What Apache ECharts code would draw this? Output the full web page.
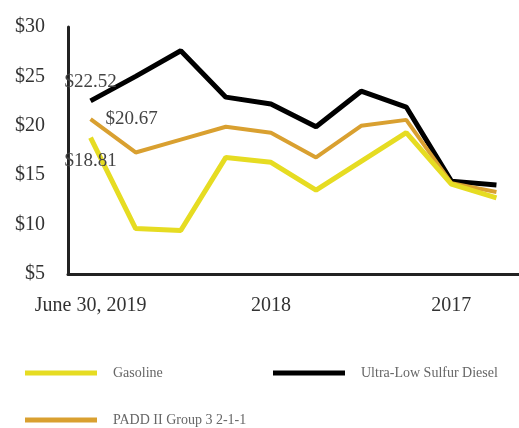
<!DOCTYPE html>
<html>
<head>
<meta charset="utf-8">
<script src="https://cdn.jsdelivr.net/npm/echarts@6/dist/echarts.min.js"></script>
<style>
  html, body { margin: 0; padding: 0; background: #fff; }
  #chart { width: 519px; height: 428px; }
</style>
</head>
<body>
<div id="chart"></div>
<script>
// quarters, newest first
const categories = ['Jun 2019', 'Mar 2019', 'Dec 2018', 'Sep 2018', 'Jun 2018',
  'Mar 2018', 'Dec 2017', 'Sep 2017', 'Jun 2017', 'Mar 2017'];
const xTickLabels = ['June 30, 2019', '', '', '', '2018', '', '', '', '2017', ''];
const gasoline = [18.81, 9.6, 9.4, 16.8, 16.3, 13.5, 16.4, 19.3, 14.1, 12.7];
const ulsd = [22.52, 25.0, 27.6, 22.9, 22.2, 19.9, 23.5, 21.9, 14.4, 14.0];
const padd = [20.67, 17.3, 18.6, 19.9, 19.3, 16.8, 20.0, 20.6, 14.2, 13.3];

const serif = '"Liberation Serif", "DejaVu Serif", serif';

const chart = echarts.init(document.getElementById('chart'));

// only the first (latest) point carries a value label
const firstLabel = (values, position, distance) =>
  values.map((v, i) => i === 0
    ? { value: v, label: { show: true, position: position, distance: distance } }
    : v);

const legendItem = (name, left, top) => ({
  data: [name],
  left: left,
  top: top,
  padding: 0,
  icon: 'rect',
  itemWidth: 72,
  itemHeight: 5,
  textStyle: {
    fontFamily: serif,
    fontSize: 14,
    color: '#666',
    padding: [0, 0, 0, 11],
  },
});

const lineSeries = (name, values, color, width, position, distance) => ({
  name: name,
  type: 'line',
  data: firstLabel(values, position, distance),
  showSymbol: true,
  symbol: 'circle',
  symbolSize: 0,
  lineStyle: { color: color, width: width },
  itemStyle: { color: color },
  label: {
    fontFamily: serif,
    fontSize: 19,
    color: '#444',
    formatter: (p) => '$' + p.value.toFixed(2),
  },
});

const option = {
  animation: false,
  backgroundColor: '#fff',
  grid: {
    left: 68,
    right: 0,
    top: 27,
    bottom: 154,
  },
  legend: [
    legendItem('Gasoline', 25, 366),
    legendItem('Ultra-Low Sulfur Diesel', 273, 366),
    legendItem('PADD II Group 3 2-1-1', 25, 413),
  ],
  xAxis: {
    type: 'category',
    boundaryGap: true,
    data: categories,
    axisLine: { lineStyle: { color: '#222', width: 3 } },
    axisTick: { show: false },
    axisLabel: {
      interval: 0,
      margin: 22,
      fontFamily: serif,
      fontSize: 20,
      color: '#333',
      formatter: (v, i) => xTickLabels[i],
    },
  },
  yAxis: {
    type: 'value',
    min: 5,
    max: 30,
    interval: 5,
    axisLine: { show: true, lineStyle: { color: '#222', width: 3 } },
    axisTick: { show: false },
    splitLine: { show: false },
    axisLabel: {
      margin: 23,
      fontFamily: serif,
      fontSize: 20,
      color: '#333',
      formatter: (v) => '$' + v,
    },
  },
  series: [
    lineSeries('Ultra-Low Sulfur Diesel', ulsd, '#000', 5, 'top', 9),
    lineSeries('PADD II Group 3 2-1-1', padd, '#D9A030', 4, 'right', 15),
    lineSeries('Gasoline', gasoline, '#E6DC22', 5, 'bottom', 14),
  ],
};

chart.setOption(option);
</script>
</body>
</html>
